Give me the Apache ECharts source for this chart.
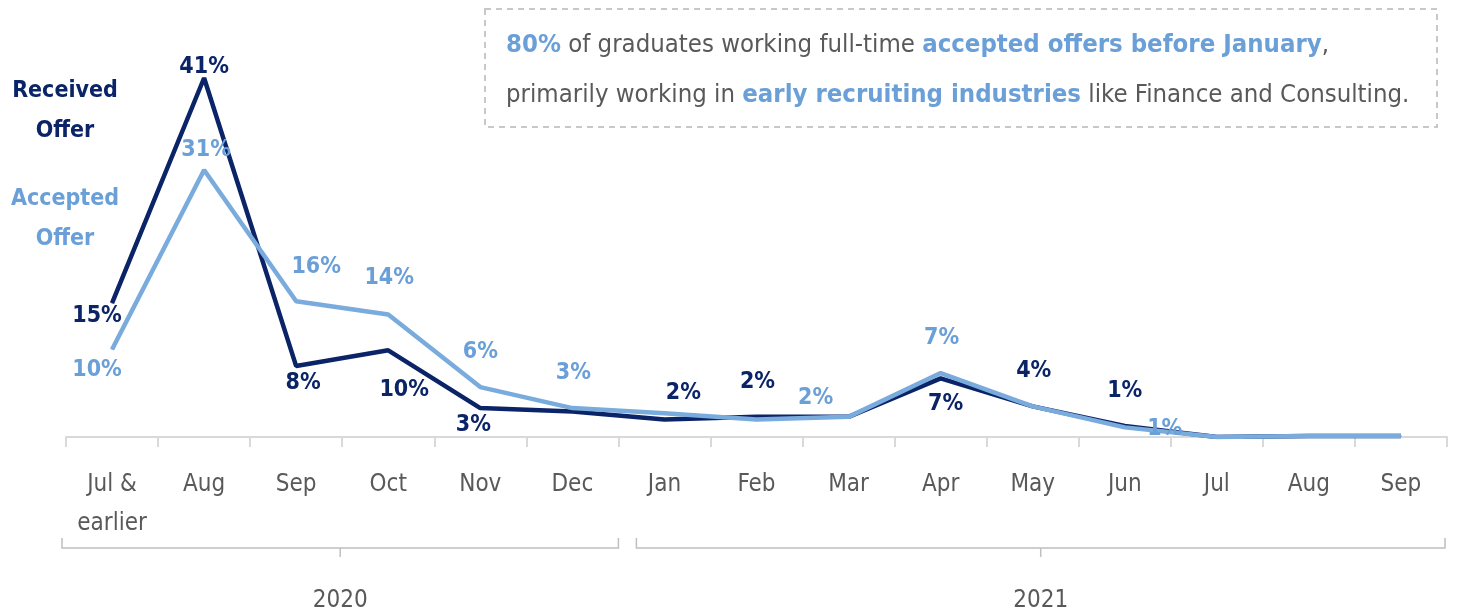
<!DOCTYPE html>
<html><head><meta charset="utf-8">
<script src="https://cdn.jsdelivr.net/npm/echarts@6/dist/echarts.min.js"></script>
<style>html,body{margin:0;padding:0;background:#fff}#c{width:1458px;height:615px}</style>
</head><body><div id="c"></div>
<script>
const categories = ['Jul &\nearlier','Aug','Sep','Oct','Nov','Dec','Jan','Feb','Mar','Apr','May','Jun','Jul','Aug','Sep'];
const received = [15.3, 41, 8.1, 9.9, 3.3, 2.9, 2.0, 2.3, 2.3, 6.7, 3.5, 1.25, 0, 0.1, 0.1];
const accepted = [10, 30.5, 15.5, 14, 5.7, 3.3, 2.7, 2.0, 2.3, 7.3, 3.5, 1.1, 0, 0.1, 0.1];
const yearGroups = [{label:'2020', from:0, to:5}, {label:'2021', from:6, to:14}];

const DARK = '#0b2468', LIGHT = '#7aabdd', LIGHT_TXT = '#6a9fd8', GREY = '#595959';
const FONT = '"DejaVu Sans Condensed","Liberation Sans Narrow","Open Sans",sans-serif';

// label placement (style only): index -> [dx, dy]
const recvLabelOffsets = {0:[-15,13],1:[0,-11],2:[7,17],3:[16,40],4:[-7,17],6:[19,-26],7:[1,-35],9:[5,26],10:[1,-35],11:[0,-35]};
const accLabelOffsets = {0:[-15,21],1:[2,-20],2:[20,-34],3:[1,-36],4:[0,-35],5:[1,-35],8:[-33,-19],9:[1,-35],11:[40,2]};

function build(vals, offs, color, txtColor){
  return vals.map((v,i)=>{
    const o = offs[i];
    return {value:v, label: o ? {show:true, position:'inside', offset:o, color:txtColor,
      fontFamily:FONT, fontWeight:'bold', fontSize:23, formatter: p => Math.round(p.value)+'%'} : {show:false}};
  });
}

const chart = echarts.init(document.getElementById('c'), null, {renderer:'canvas'});
const option = {
  animation:false,
  grid:{left:66, right:11, top:43, bottom:178},
  xAxis:{type:'category', data:categories, boundaryGap:true,
    axisLine:{lineStyle:{color:'#d9d9d9', width:2}},
    axisTick:{show:true, length:10, lineStyle:{color:'#d9d9d9', width:2}},
    axisLabel:{color:GREY, fontFamily:FONT, fontSize:24, margin:28, lineHeight:39, interval:0}},
  yAxis:{type:'value', min:0, max:45, show:false, splitLine:{show:false}},
  series:[
    {name:'Received Offer', type:'line', data:build(received, recvLabelOffsets, DARK, DARK),
     symbol:'circle', symbolSize:1, itemStyle:{color:DARK}, lineStyle:{color:DARK, width:4.5}, z:2},
    {name:'Accepted Offer', type:'line', data:build(accepted, accLabelOffsets, LIGHT, LIGHT_TXT),
     symbol:'circle', symbolSize:1, itemStyle:{color:LIGHT}, lineStyle:{color:LIGHT, width:4.5}, z:3}
  ]
};
chart.setOption(option);

// decorations computed from the category axis
const bw = chart.convertToPixel({xAxisIndex:0}, 1) - chart.convertToPixel({xAxisIndex:0}, 0);
const graphics = [];
yearGroups.forEach((g, gi) => {
  const x0 = chart.convertToPixel({xAxisIndex:0}, g.from) - bw/2 + (gi===0 ? -4 : 18);
  const x1 = chart.convertToPixel({xAxisIndex:0}, g.to) + bw/2 - (gi===0 ? 0 : 2);
  const xm = (x0 + x1)/2;
  graphics.push({type:'polyline', shape:{points:[[x0,538],[x0,548],[x1,548],[x1,538]]}, style:{stroke:'#bfbfbf', lineWidth:1.5, fill:null}});
  graphics.push({type:'line', shape:{x1:xm, y1:548, x2:xm, y2:557}, style:{stroke:'#bfbfbf', lineWidth:1.5}});
  graphics.push({type:'text', x:xm, y:601, style:{text:g.label, fill:GREY, font:'24px '+FONT, textAlign:'center', textVerticalAlign:'middle'}});
});
// legend texts
graphics.push({type:'text', x:65, y:111, style:{text:'Received\nOffer', fill:DARK, fontFamily:FONT, fontWeight:'bold', fontSize:23, lineHeight:40, align:'center', verticalAlign:'middle'}});
graphics.push({type:'text', x:65, y:219, style:{text:'Accepted\nOffer', fill:LIGHT_TXT, fontFamily:FONT, fontWeight:'bold', fontSize:23, lineHeight:40, align:'center', verticalAlign:'middle'}});
// annotation box
graphics.push({type:'rect', shape:{x:485, y:9, width:952, height:118}, style:{fill:null, stroke:'#c8c8c8', lineWidth:2, lineDash:[6,5]}});
const rich = {b:{fill:LIGHT_TXT, fontFamily:FONT, fontWeight:'bold', fontSize:25.5}, n:{fill:GREY, fontFamily:FONT, fontWeight:'normal', fontSize:25.5}};
graphics.push({type:'text', x:506, y:45, style:{text:'{b|80%}{n| of graduates working full-time }{b|accepted offers before January}{n|,}', rich:rich, verticalAlign:'middle'}});
graphics.push({type:'text', x:506, y:95, style:{text:'{n|primarily working in }{b|early recruiting industries}{n| like Finance and Consulting.}', rich:rich, verticalAlign:'middle'}});
chart.setOption({graphic:graphics});
</script></body></html>
